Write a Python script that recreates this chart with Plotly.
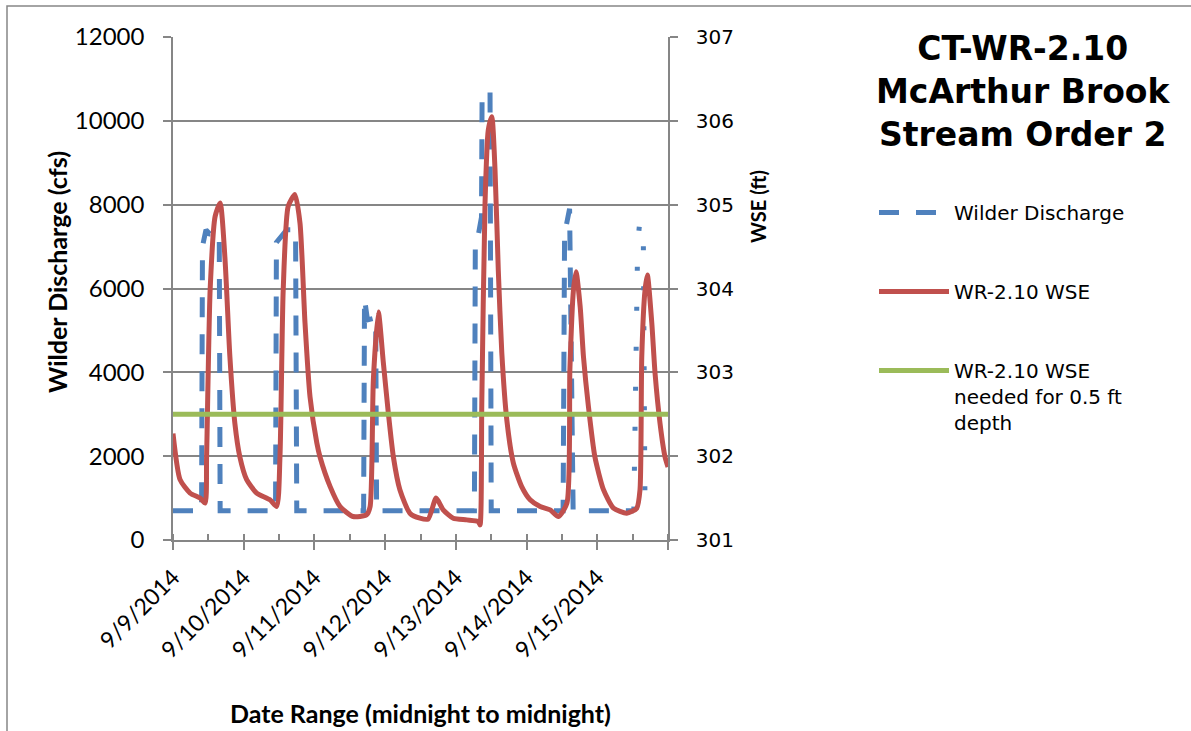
import pandas as pd
import plotly.graph_objects as go

START = pd.Timestamp("2014-09-09")

# Wilder Discharge (cfs) - hours after 9/9/2014 00:00
q_hours = [0, 9.7, 10.0, 11.2, 12.5, 15.7, 16.0, 34.8, 35.1, 38.6, 41.6, 42.0,
           64.7, 65.0, 66.0, 68.8, 69.1, 102.3, 102.6, 103.1, 104.7, 104.9, 107.6, 108.0,
           132.4, 132.9, 134.6, 135.8, 156.4]
q_cfs = [700, 700, 7000, 7400, 7300, 7300, 700, 700, 7100, 7400, 7400, 700,
         700, 5760, 5250, 5300, 700, 700, 7000, 7070, 7700, 10550, 10720, 700,
         700, 7300, 7900, 700, 700]
# last peak (drawn dotted in the reference)
q2_hours = [156.4, 157.7, 158.5, 159.6, 160.2]
q2_cfs = [700, 7050, 7660, 7500, 700]

# WR-2.10 WSE (ft)
wse_hours = [0, 2.4, 5.8, 9.2, 10.9, 11.4, 12.6, 14.3, 16.0, 17.6, 19.3, 21.0, 22.7, 25.0, 28.4,
             32.9, 35.2, 36.3, 37.4, 39.1, 41.4, 43.1, 44.8, 46.5, 48.8, 49.9, 53.3, 56.7, 61.1, 65.7,
             66.9, 68.0, 69.7, 71.4, 73.1, 74.8, 77.0, 80.4, 83.8, 86.6, 89.3, 91.7, 95.1, 99.7, 103.6,
             104.2, 104.8, 105.9, 107.0, 108.2, 109.3, 110.4, 111.6, 113.3, 115.5, 118.3, 121.2, 124.6,
             128.0, 130.8, 133.7, 134.7, 135.9, 136.8, 138.2, 139.3, 141.0, 143.2, 146.1, 149.5, 154.0,
             157.4, 158.5, 159.1, 160.2, 161.0, 162.5, 163.6, 165.3, 167.0, 168.0]
wse_ft = [302.27, 301.72, 301.56, 301.50, 301.44, 301.99, 303.98, 304.86, 305.02, 304.38, 303.19,
          302.39, 301.99, 301.72, 301.56, 301.48, 301.40, 301.99, 303.98, 304.98, 305.12, 304.78,
          303.59, 302.71, 302.16, 301.99, 301.64, 301.40, 301.28, 301.30, 301.40, 302.91, 303.72,
          303.11, 302.51, 301.99, 301.60, 301.32, 301.26, 301.25, 301.50, 301.36, 301.26, 301.24,
          301.22, 301.18, 302.63, 305.02, 305.89, 306.05, 305.41, 304.22, 303.23, 302.43, 301.92,
          301.64, 301.48, 301.40, 301.36, 301.28, 301.44, 303.03, 303.98, 304.20, 303.78, 303.19,
          302.59, 301.99, 301.60, 301.38, 301.32, 301.38, 301.60, 303.19, 303.98, 304.16, 303.59,
          302.99, 302.39, 301.99, 301.87]

# WSE needed for 0.5 ft depth
need_hours = [0, 168]
need_ft = [302.5, 302.5]

tick_days = [START + pd.Timedelta(days=d) for d in range(8)]
tick_text = ["9/9/2014", "9/10/2014", "9/11/2014", "9/12/2014", "9/13/2014",
             "9/14/2014", "9/15/2014", ""]


def to_time(hours):
    return [START + pd.Timedelta(hours=h) for h in hours]


BLUE, RED, GREEN, GRAY = "#4F81BD", "#C0504D", "#9BBB59", "#868686"

fig = go.Figure()
fig.add_trace(go.Scatter(x=to_time(q_hours), y=q_cfs, mode="lines", name="Wilder Discharge",
                         legendgroup="q", line=dict(color=BLUE, width=5, dash="20px,17px"),
                         yaxis="y"))
fig.add_trace(go.Scatter(x=to_time(q2_hours), y=q2_cfs, mode="lines", name="Wilder Discharge",
                         legendgroup="q", showlegend=False,
                         line=dict(color=BLUE, width=5, dash="4px,36px"), yaxis="y"))
fig.add_trace(go.Scatter(x=to_time(wse_hours), y=wse_ft, mode="lines", name="WR-2.10 WSE",
                         legendgroup="w",
                         line=dict(color=RED, width=5, shape="spline", smoothing=0.6),
                         yaxis="y2"))
fig.add_trace(go.Scatter(x=to_time(need_hours), y=need_ft, mode="lines",
                         name="WR-2.10 WSE<br>needed for 0.5 ft<br>depth", legendgroup="n",
                         line=dict(color=GREEN, width=5), yaxis="y2"))

L, R, T, B = 173, 523, 37, 191
W, H = 1191, 731
pw, ph = W - L - R, H - T - B


def px(x):
    return (x - L) / pw


def py(y):
    return (H - B - y) / ph


fig.update_layout(
    width=W, height=H, autosize=False,
    margin=dict(l=L, r=R, t=T, b=B),
    paper_bgcolor="white", plot_bgcolor="white",
    font=dict(family="Lato", color="black"),
    xaxis=dict(type="date", range=[tick_days[0], tick_days[-1]], showgrid=False,
               showline=True, linecolor=GRAY, linewidth=1.5,
               ticks="outside", ticklen=8, tickwidth=1.5, tickcolor=GRAY,
               tickmode="array", tickvals=tick_days, ticktext=tick_text, tickangle=-45,
               tickfont=dict(family="Lato", size=23, color="black"),
               ticklabelstandoff=5,
               minor=dict(dtick=12 * 3600 * 1000, tick0=tick_days[0], ticks="inside",
                          ticklen=6, tickwidth=1.5, tickcolor=GRAY, showgrid=False),
               zeroline=False),
    yaxis=dict(range=[0, 12000], dtick=2000, tickformat="d", showgrid=True, gridcolor=GRAY,
               gridwidth=1.5, showline=True, linecolor=GRAY, linewidth=1.5, zeroline=False,
               ticks="outside", ticklen=8, tickwidth=1.5, tickcolor=GRAY,
               tickfont=dict(family="Lato", size=24, color="black"), ticklabelstandoff=14),
    yaxis2=dict(range=[301, 307], dtick=1, overlaying="y", side="right", showgrid=False,
                showline=True, linecolor=GRAY, linewidth=1.5, zeroline=False,
                ticks="outside", ticklen=8, tickwidth=1.5, tickcolor=GRAY,
                tickfont=dict(family="DejaVu Sans", size=20, color="black"),
                ticklabelstandoff=14),
    legend=dict(x=px(874), y=py(193), xanchor="left", yanchor="top",
                font=dict(family="DejaVu Sans", size=20, color="black"),
                itemwidth=70, tracegroupgap=50, valign="top", bgcolor="rgba(0,0,0,0)",
                traceorder="grouped"),
    showlegend=True,
    annotations=[
        dict(text="<b>CT-WR-2.10<br>McArthur Brook<br>Stream Order 2</b>", xref="paper",
             yref="paper", x=px(1023), y=py(27), xanchor="center", yanchor="top",
             showarrow=False, align="center",
             font=dict(family="DejaVu Sans", size=33, color="black")),
        dict(text="<b>Wilder Discharge (cfs)</b>", xref="paper", yref="paper",
             x=px(57), y=py(272), xanchor="center", yanchor="middle", textangle=-90,
             showarrow=False, font=dict(family="Lato", size=25, color="black")),
        dict(text="<b>WSE (ft)</b>", xref="paper", yref="paper",
             x=px(758), y=py(207), xanchor="center", yanchor="middle", textangle=-90,
             showarrow=False, font=dict(family="Lato", size=20, color="black")),
        dict(text="<b>Date Range (midnight to midnight)</b>", xref="paper", yref="paper",
             x=px(420), y=py(713), xanchor="center", yanchor="middle",
             showarrow=False, font=dict(family="Lato", size=25, color="black")),
    ],
    shapes=[dict(type="rect", xref="paper", yref="paper", x0=px(7), x1=px(1200),
                 y0=py(6), y1=py(740), line=dict(color=GRAY, width=1.5),
                 fillcolor="rgba(0,0,0,0)", layer="below")],
)

fig.write_html("out.html")
